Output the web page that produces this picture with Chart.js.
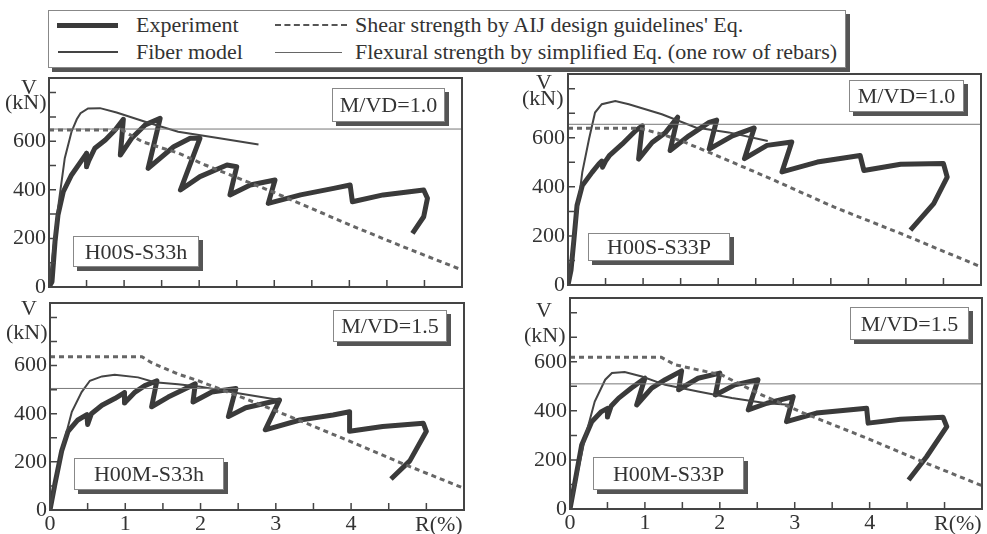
<!DOCTYPE html>
<html>
<head>
<meta charset="utf-8">
<script src="https://cdn.jsdelivr.net/npm/chart.js@4.4.0/dist/chart.umd.min.js"></script>
<style>
  body { margin: 0; width: 987px; height: 534px; background: #fff; position: relative; overflow: hidden;
         font-family: "Liberation Serif", "Times New Roman", Times, "DejaVu Serif", "Noto Serif", serif; color: #333; }
  .panel { position: absolute; }
  .box { position: absolute; background: #fff; border: 1px solid #888; box-shadow: 4px 4px 0 #555; }
  .tag { position: absolute; background: #fff; border: 1px solid #888; box-shadow: 4px 4px 0 #555;
         font-size: 22px; display: flex; align-items: center; justify-content: center; box-sizing: border-box; }
  .lbl { position: absolute; font-size: 22px; line-height: 24px; white-space: nowrap; }
  .swatch { position: absolute; }
</style>
</head>
<body>

<!-- legend -->
<div class="box" style="left:48px;top:10px;width:796px;height:56px"></div>
<div class="swatch" style="left:57px;top:23px;width:61px;border-top:5px solid #3a3a3a"></div>
<div class="lbl" style="left:136px;top:13px">Experiment</div>
<div class="swatch" style="left:58px;top:51px;width:60px;border-top:2px solid #444"></div>
<div class="lbl" style="left:136px;top:40px">Fiber model</div>
<div class="swatch" style="left:275px;top:24px;width:72px;border-top:2px dashed #555"></div>
<div class="lbl" style="left:355px;top:13px">Shear strength by AIJ design guidelines' Eq.</div>
<div class="swatch" style="left:275px;top:52px;width:67px;border-top:1px solid #666"></div>
<div class="lbl" style="left:355px;top:40px">Flexural strength by simplified Eq. (one row of rebars)</div>

<div class="panel" id="p1"><canvas id="c1"></canvas></div>
<div class="panel" id="p2"><canvas id="c2"></canvas></div>
<div class="panel" id="p3"><canvas id="c3"></canvas></div>
<div class="panel" id="p4"><canvas id="c4"></canvas></div>

<!-- axis captions -->
<div class="lbl" style="left:21px;top:75px">V</div>
<div class="lbl" style="left:5px;top:90px">(kN)</div>
<div class="lbl" style="left:536px;top:70px">V</div>
<div class="lbl" style="left:522px;top:86px">(kN)</div>
<div class="lbl" style="left:21px;top:296px">V</div>
<div class="lbl" style="left:6px;top:320px">(kN)</div>
<div class="lbl" style="left:536px;top:298px">V</div>
<div class="lbl" style="left:524px;top:323px">(kN)</div>
<div class="lbl" style="left:415px;top:512px">R(%)</div>
<div class="lbl" style="left:934px;top:511px">R(%)</div>

<!-- panel tags -->
<div class="tag" style="left:332px;top:88px;width:113px;height:34px">M/VD=1.0</div>
<div class="tag" style="left:73px;top:236px;width:126px;height:31px">H00S-S33h</div>
<div class="tag" style="left:849px;top:80px;width:115px;height:32px">M/VD=1.0</div>
<div class="tag" style="left:588px;top:233px;width:142px;height:28px">H00S-S33P</div>
<div class="tag" style="left:333px;top:310px;width:114px;height:32px">M/VD=1.5</div>
<div class="tag" style="left:74px;top:458px;width:150px;height:32px">H00M-S33h</div>
<div class="tag" style="left:850px;top:307px;width:119px;height:33px">M/VD=1.5</div>
<div class="tag" style="left:593px;top:457px;width:151px;height:33px">H00M-S33P</div>

<script>
// ---- data: [R (%), V (kN)] ----

// H00S-S33h, M/VD=1.0
const expS33h = [[0,0],[0.04,22],[0.08,186],[0.12,296],[0.19,392],[0.30,461],[0.44,523],[0.50,550],[0.50,495],
  [0.53,520],[0.61,571],[0.75,605],[0.88,646],[0.99,690],[0.95,543],[1.10,612],[1.28,667],[1.48,694],[1.32,488],
  [1.66,577],[1.88,612],[2.01,612],[1.75,399],[2.01,454],[2.37,502],[2.50,495],[2.41,379],[2.68,420],[3.01,440],
  [2.92,344],[3.35,379],[3.79,406],[4.01,420],[4.04,351],[4.45,379],[4.99,399],[5.04,365],[4.99,289],[4.84,221]];
const fibS33h = [[0,0],[0.12,325],[0.21,530],[0.30,639],[0.37,690],[0.42,715],[0.52,735],[0.68,736],[0.90,718],
  [1.28,680],[1.72,639],[2.25,613],[2.79,586]];
const shearS33h = [[0,646],[0.97,646],[1.24,598],[1.72,551],[2.08,502],[2.52,448],[2.99,390],[4.01,255],[4.68,170],[5.5,70]];
const flexS33h = 650;

// H00S-S33P, M/VD=1.0
const expS33P = [[0,0],[0.04,60],[0.08,188],[0.12,324],[0.19,405],[0.32,459],[0.41,493],[0.45,505],[0.46,480],
  [0.50,505],[0.55,527],[0.72,574],[0.90,629],[0.99,649],[0.94,513],[1.12,581],[1.30,622],[1.46,684],[1.36,548],
  [1.61,608],[1.88,663],[1.98,672],[1.88,554],[2.19,608],[2.48,640],[2.35,515],[2.65,569],[2.98,583],[2.85,461],
  [3.32,501],[3.89,528],[3.94,467],[4.43,492],[5.00,495],[5.05,440],[4.87,332],[4.56,224]];
const fibS33P = [[0,0],[0.19,459],[0.28,595],[0.36,703],[0.45,737],[0.63,750],[0.81,737],[1.25,696],[1.70,642],
  [2.14,622],[2.66,587]];
const shearS33P = [[0,639],[0.95,639],[1.25,615],[1.56,581],[1.92,535],[2.65,440],[3.54,318],[4.43,210],[5.5,74]];
const flexS33P = 655;

// H00M-S33h, M/VD=1.5
const expM33h = [[0,0],[0.066,109],[0.155,245],[0.24,327],[0.37,374],[0.49,396],[0.50,355],[0.55,400],[0.69,435],
  [0.86,463],[0.99,488],[0.99,445],[1.13,490],[1.26,517],[1.42,537],[1.35,429],[1.57,469],[1.79,503],[1.93,524],
  [1.90,449],[2.15,490],[2.47,505],[2.37,388],[2.60,425],[3.05,457],[2.86,333],[3.32,374],[3.76,395],[3.98,408],
  [3.98,327],[4.42,347],[4.96,360],[5.00,327],[4.78,204],[4.53,129]];
const fibM33h = [[0,0],[0.155,245],[0.29,408],[0.42,490],[0.53,537],[0.69,555],[0.86,562],[1.17,551],[1.39,531],
  [1.70,522],[2.00,512],[2.50,485],[3.07,456]];
const shearM33h = [[0,637],[1.22,637],[1.35,612],[1.70,565],[1.97,537],[2.23,506],[2.59,463],[3.19,388],[3.98,286],
  [4.65,197],[5.5,90]];
const flexM33h = 505;

// H00M-S33P, M/VD=1.5
const expM33P = [[0,0],[0.067,111],[0.156,261],[0.29,356],[0.42,397],[0.50,410],[0.50,375],[0.55,420],[0.65,452],
  [0.82,493],[1.00,533],[0.89,424],[1.09,493],[1.27,527],[1.49,563],[1.45,486],[1.71,533],[2.00,554],[1.94,465],
  [2.20,506],[2.51,527],[2.38,404],[2.63,431],[2.98,458],[2.89,356],[3.29,391],[3.96,411],[3.98,350],[4.41,366],
  [4.98,374],[5.03,336],[4.76,213],[4.52,118]];
const fibM33P = [[0,0],[0.20,289],[0.33,438],[0.47,527],[0.56,554],[0.73,558],[0.96,540],[1.27,506],[1.71,479],
  [2.16,452],[2.62,431],[2.98,424]];
const shearM33P = [[0,618],[1.22,618],[1.40,588],[1.71,567],[2.02,547],[2.51,472],[3.07,397],[3.96,289],[4.81,180],[5.5,95]];
const flexM33P = 510;

// axes
const rMax = 5.5;
const vMax = 860;
const rTicks = [0.5,1,1.5,2,2.5,3,3.5,4,4.5,5];
const vTicks = [100,200,300,400,500,600,700,800];
const rLabels = [0,1,2,3,4];
const vLabels = [0,200,400,600];

// frame + inward tick marks
const frame = {
  id: 'frame',
  afterDatasetsDraw(chart) {
    const {ctx, chartArea: a, scales: {x, y}} = chart;
    ctx.save();
    ctx.strokeStyle = '#444';
    ctx.lineWidth = 2;
    ctx.strokeRect(a.left, a.top, a.right - a.left, a.bottom - a.top);
    ctx.lineWidth = 1.5;
    ctx.beginPath();
    vTicks.forEach(v => {
      const p = y.getPixelForValue(v);
      ctx.moveTo(a.left, p); ctx.lineTo(a.left + 7, p);
    });
    rTicks.forEach(v => {
      const p = x.getPixelForValue(v);
      ctx.moveTo(p, a.bottom); ctx.lineTo(p, a.bottom - 7);
    });
    ctx.stroke();
    ctx.restore();
  }
};

const pts = arr => arr.map(([r, v]) => ({x: r, y: v}));
const tickFont = {family: '"Liberation Serif", "Times New Roman", Times, "DejaVu Serif", serif', size: 22};

function makePanel(n, area, exp, fib, shear, flex, showX) {
  const xH = showX ? 30 : 14;
  const box = document.getElementById('p' + n);
  box.style.left = (area.l - 48) + 'px';
  box.style.top = (area.t - 3) + 'px';
  box.style.width = (area.r - area.l + 52) + 'px';
  box.style.height = (area.b - area.t + 3 + xH) + 'px';

  new Chart(document.getElementById('c' + n), {
    type: 'scatter',
    data: {
      datasets: [
        {data: pts(shear), showLine: true, borderColor: '#666', borderWidth: 3, borderDash: [5, 4], pointRadius: 0},
        {data: [{x: 0, y: flex}, {x: rMax, y: flex}], showLine: true, borderColor: '#777', borderWidth: 1, pointRadius: 0},
        {data: pts(fib), showLine: true, borderColor: '#444', borderWidth: 2, pointRadius: 0},
        {data: pts(exp), showLine: true, borderColor: '#3a3a3a', borderWidth: 5, borderJoinStyle: 'round', pointRadius: 0}
      ]
    },
    options: {
      responsive: true,
      maintainAspectRatio: false,
      animation: false,
      events: [],
      layout: {padding: {top: 3, right: 4, left: 0, bottom: 0}},
      plugins: {legend: {display: false}, tooltip: {enabled: false}},
      scales: {
        x: {
          type: 'linear', min: 0, max: rMax,
          grid: {display: false, drawTicks: false}, border: {display: false},
          ticks: {
            display: showX, stepSize: 0.5, autoSkip: false, maxRotation: 0, padding: 1,
            color: '#333', font: tickFont,
            callback: v => rLabels.includes(v) ? v : ''
          },
          afterFit: s => { s.height = xH; s.paddingLeft = 0; s.paddingRight = 0; }
        },
        y: {
          min: 0, max: vMax,
          grid: {display: false, drawTicks: false}, border: {display: false},
          ticks: {
            stepSize: 100, autoSkip: false, padding: 3, color: '#333', font: tickFont,
            callback: v => vLabels.includes(v) ? v : ''
          },
          afterFit: s => { s.width = 48; s.paddingTop = 0; s.paddingBottom = 0; }
        }
      }
    },
    plugins: [frame]
  });
}

makePanel(1, {l: 49, t: 78, r: 462, b: 287}, expS33h, fibS33h, shearS33h, flexS33h, false);
makePanel(2, {l: 568, t: 74, r: 981, b: 285}, expS33P, fibS33P, shearS33P, flexS33P, false);
makePanel(3, {l: 50, t: 303, r: 464, b: 510}, expM33h, fibM33h, shearM33h, flexM33h, true);
makePanel(4, {l: 570, t: 298, r: 982, b: 509}, expM33P, fibM33P, shearM33P, flexM33P, true);
</script>
</body>
</html>
